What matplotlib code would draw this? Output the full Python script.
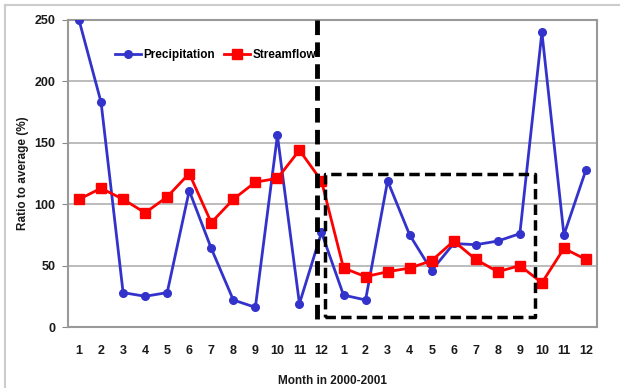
import matplotlib
matplotlib.use("Agg")
import matplotlib.pyplot as plt
from matplotlib.lines import Line2D

# monthly ratio to long-term average (%), Jan 2000 - Dec 2001
month_labels = [str(m) for m in range(1, 13)] * 2
precipitation = [250, 183, 28, 25, 28, 111, 64, 22, 16, 156, 19, 77,
                 26, 22, 119, 75, 46, 68, 67, 70, 76, 240, 75, 128]
streamflow = [104, 113, 104, 93, 106, 125, 85, 104, 118, 121, 144, 119,
              48, 41, 45, 48, 54, 70, 55, 45, 50, 36, 64, 55]

# dashed guides: split line at end of 2000 and the low-flow window
split_x = 11.8
box_x = (12.16, 21.7)
box_y = (8, 125)

plt.rcParams["font.family"] = ["Liberation Sans", "DejaVu Sans"]
plt.rcParams["font.weight"] = "bold"

fig = plt.figure(figsize=(6.2, 3.88), dpi=100)
ax = fig.add_axes([68 / 620, 61 / 388, 529 / 620, 307 / 388])

x = list(range(1, len(month_labels) + 1))
ax.plot(x, precipitation, color="#3333cc", linewidth=2, marker="o",
        markersize=5.5, label="Precipitation", zorder=3)
ax.plot(x, streamflow, color="#ff0000", linewidth=2, marker="s",
        markersize=7, label="Streamflow", zorder=4)

ax.set_xlim(0.5, len(month_labels) + 0.5)
ax.set_ylim(0, 250)
ax.set_yticks(range(0, 251, 50))
ax.set_xticks(x)
ax.set_xticklabels(month_labels, fontweight="bold")
for lab in ax.get_yticklabels():
    lab.set_fontweight("bold")
ax.tick_params(axis="x", length=0, pad=13, labelsize=9, labelcolor="#1a1a1a")
ax.tick_params(axis="y", length=4, pad=5, labelsize=9, color="#888888",
               labelcolor="#1a1a1a")
ax.yaxis.grid(True, color="#b0b0b0", linewidth=1.2)
ax.set_axisbelow(True)
for side in ax.spines.values():
    side.set_color("#999999")
    side.set_linewidth(1.5)

ax.set_xlabel("Month in 2000-2001", fontsize=8.5, fontweight="bold",
              labelpad=13, color="#1a1a1a")
ax.set_ylabel("Ratio to average (%)", fontsize=8.5, fontweight="bold",
              labelpad=4, color="#1a1a1a")

ax.plot([split_x, split_x], [250, 6], color="black", linewidth=3.5,
        linestyle=(0, (3, 1.5)), clip_on=False, zorder=5)
ax.plot([box_x[0], box_x[1], box_x[1], box_x[0], box_x[0]],
        [box_y[0], box_y[0], box_y[1], box_y[1], box_y[0]],
        color="black", linewidth=2.5, linestyle=(0, (3, 1.5)), zorder=5)

leg = ax.legend(loc="upper left", bbox_to_anchor=(0.08, 0.92), ncol=2,
                frameon=False, handlelength=2.2,
                columnspacing=0.8, handletextpad=0.2, borderaxespad=0,
                prop={"size": 8.5, "weight": "bold"})

# light frame around the whole chart
fig.add_artist(Line2D([5 / 620, 5 / 620], [0, 1 - 5 / 388],
                      transform=fig.transFigure, color="#cccccc", linewidth=1.5))
fig.add_artist(Line2D([5 / 620, 1], [1 - 5 / 388, 1 - 5 / 388],
                      transform=fig.transFigure, color="#cccccc", linewidth=1.5))

fig.savefig("out.png", dpi=100)
